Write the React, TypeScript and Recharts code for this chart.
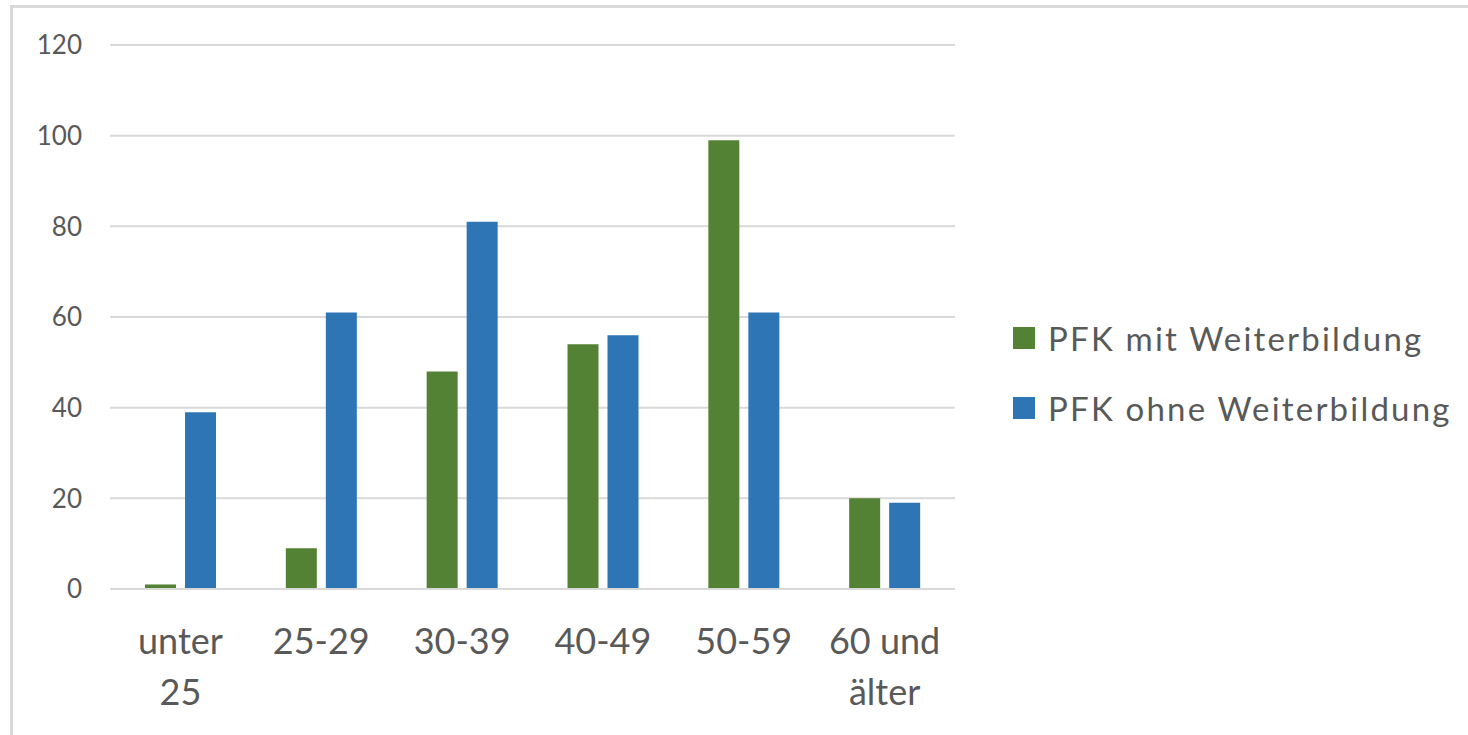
import { Bar, BarChart, CartesianGrid, XAxis, YAxis } from 'recharts';

const categories = ['unter 25', '25-29', '30-39', '40-49', '50-59', '60 und älter'];
const mitWeiterbildung = [1, 9, 48, 54, 99, 20];
const ohneWeiterbildung = [39, 61, 81, 56, 61, 19];
const yTicks = [0, 20, 40, 60, 80, 100, 120];

const GREEN = '#548235';
const BLUE = '#2e75b6';
const TEXT = '#595959';
const GRID = '#d9d9d9';
const FONT = 'Lato, "Open Sans", sans-serif';

const series = [
  { key: 'mit', name: 'PFK mit Weiterbildung', color: GREEN },
  { key: 'ohne', name: 'PFK ohne Weiterbildung', color: BLUE },
];

const data = categories.map((name, i) => ({
  name,
  mit: mitWeiterbildung[i],
  ohne: ohneWeiterbildung[i],
}));

function splitLabel(label: string): string[] {
  if (label.length <= 6) return [label];
  const idx = label.lastIndexOf(' ');
  return idx > 0 ? [label.slice(0, idx), label.slice(idx + 1)] : [label];
}

function CategoryTick({ x, y, payload }: any) {
  const lines = splitLabel(String(payload.value));
  return (
    <g transform={`translate(${x},${y})`}>
      {lines.map((line, i) => (
        <text
          key={i}
          x={0}
          y={65 + i * 51}
          textAnchor="middle"
          fill={TEXT}
          fontSize={36}
          fontFamily={FONT}
        >
          {line}
        </text>
      ))}
    </g>
  );
}

function SideLegend() {
  return (
    <div
      style={{
        position: 'absolute',
        left: 1013,
        top: 303,
        fontFamily: FONT,
        fontSize: 33,
        color: TEXT,
        letterSpacing: 2.2,
        whiteSpace: 'nowrap',
      }}
    >
      {series.map((s) => (
        <div key={s.key} style={{ display: 'flex', alignItems: 'center', height: 70 }}>
          <span
            style={{
              display: 'inline-block',
              width: 22,
              height: 22,
              background: s.color,
              marginRight: 13,
            }}
          />
          <span>{s.name}</span>
        </div>
      ))}
    </div>
  );
}

export default function App() {
  return (
    <div style={{ position: 'absolute', left: 0, top: 0, width: 1468, height: 735, background: '#fff' }}>
      <div
        style={{
          position: 'absolute',
          left: 10,
          top: 5,
          right: 0,
          bottom: 0,
          borderLeft: `3px solid ${GRID}`,
          borderTop: `3px solid ${GRID}`,
        }}
      />
      <BarChart
        width={1468}
        height={735}
        data={data}
        margin={{ top: 45, right: 513, bottom: 116, left: 0 }}
        barSize={31}
        barGap={9}
      >
        <CartesianGrid vertical={false} stroke={GRID} strokeWidth={2} />
        <XAxis
          dataKey="name"
          axisLine={{ stroke: GRID, strokeWidth: 2 }}
          tickLine={false}
          tickSize={0}
          tickMargin={0}
          interval={0}
          tick={<CategoryTick />}
        />
        <YAxis
          width={110}
          domain={[0, 120]}
          ticks={yTicks}
          axisLine={false}
          tickLine={false}
          tickSize={0}
          tickMargin={28}
          tick={{ fill: TEXT, fontSize: 26, fontFamily: FONT }}
        />
        {series.map((s) => (
          <Bar key={s.key} dataKey={s.key} name={s.name} fill={s.color} isAnimationActive={false} />
        ))}
      </BarChart>
      <SideLegend />
    </div>
  );
}
